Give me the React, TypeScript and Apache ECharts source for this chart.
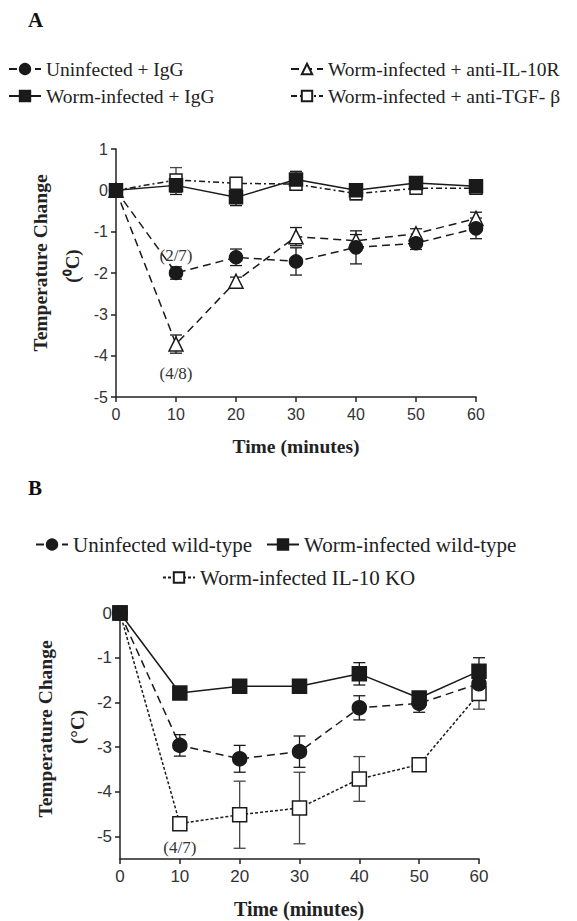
import React, { useEffect, useRef } from 'react';
import * as echarts from 'echarts';

// ---------- data ----------
const times = [0, 10, 20, 30, 40, 50, 60];
const yTicksB = [0, -1, -2, -3, -4, -5];

// Panel A
const nameA1 = 'Uninfected + IgG';
const nameA2 = 'Worm-infected + IgG';
const nameA3 = 'Worm-infected + anti-IL-10R';
const nameA4 = 'Worm-infected + anti-TGF- β';
const aUninfIgG = [0, -2.0, -1.62, -1.72, -1.38, -1.28, -0.92];
const aUninfIgGErr = [0, 0.15, 0.2, 0.33, 0.4, 0.15, 0.25];
const aWormIgG = [0, 0.12, -0.17, 0.26, 0.0, 0.18, 0.1];
const aWormIgGErr = [0, 0.22, 0.2, 0.2, 0.15, 0.08, 0.08];
const aAntiIL10R = [0, -3.72, -2.2, -1.12, -1.22, -1.05, -0.68];
const aAntiIL10RErr = [0, 0.22, 0.1, 0.22, 0.15, 0.12, 0.15];
const aAntiTGF = [0, 0.25, 0.17, 0.15, -0.08, 0.05, 0.05];
const aAntiTGFErr = [0, 0.3, 0.06, 0.15, 0.15, 0.12, 0.08];
const aUninfNotes = ['', '(2/7)', '', '', '', '', ''];
const aIL10RNotes = ['', '(4/8)', '', '', '', '', ''];

// Panel B
const nameB1 = 'Uninfected wild-type';
const nameB2 = 'Worm-infected wild-type';
const nameB3 = 'Worm-infected IL-10 KO';
const bUninfWT = [0, -2.96, -3.26, -3.1, -2.12, -2.02, -1.58];
const bUninfWTErr = [0, 0.24, 0.3, 0.35, 0.27, 0.2, 0.2];
const bWormWT = [0, -1.79, -1.64, -1.64, -1.36, -1.9, -1.3];
const bWormWTErr = [0, 0.05, 0.15, 0.05, 0.25, 0.1, 0.3];
const bIL10KO = [0, -4.71, -4.51, -4.36, -3.71, -3.39, -1.8];
const bIL10KOErr = [0, 0.12, 0.75, 0.8, 0.5, 0.05, 0.35];
const bIL10KONotes = ['', '(4/7)', '', '', '', '', ''];

const INK = '#1a1a1a';
const SERIF = '"Liberation Serif", "Times New Roman", serif';
const SANS = '"Liberation Sans", Arial, sans-serif';

function errSeries(vals: number[], errs: number[], gi: number, color: string) {
  const data: number[][] = [];
  times.forEach((t, i) => {
    if (errs[i] > 0) data.push([t, vals[i] - errs[i], vals[i] + errs[i]]);
  });
  return {
    type: 'custom',
    xAxisIndex: gi,
    yAxisIndex: gi,
    silent: true,
    z: 1,
    data,
    encode: { x: 0, y: [1, 2] },
    renderItem: (_p: any, api: any) => {
      const x = api.value(0);
      const a = api.coord([x, api.value(1)]);
      const b = api.coord([x, api.value(2)]);
      const w = 6;
      const st = { stroke: color, lineWidth: 1.3, fill: 'none' };
      return {
        type: 'group',
        children: [
          { type: 'line', shape: { x1: a[0], y1: a[1], x2: b[0], y2: b[1] }, style: st },
          { type: 'line', shape: { x1: a[0] - w, y1: a[1], x2: a[0] + w, y2: a[1] }, style: st },
          { type: 'line', shape: { x1: b[0] - w, y1: b[1], x2: b[0] + w, y2: b[1] }, style: st },
        ],
      };
    },
  };
}

function lineSeries(
  name: string,
  vals: number[],
  gi: number,
  symbol: string,
  filled: boolean,
  dash: any,
  size: number,
  notes?: string[],
  notePos?: string,
  noteDist?: number
) {
  return {
    type: 'line',
    name,
    xAxisIndex: gi,
    yAxisIndex: gi,
    z: 3,
    symbol,
    symbolSize: size,
    showSymbol: true,
    data: times.map((t, i) => {
      const item: any = { value: [t, vals[i]] };
      if (notes && notes[i]) {
        item.label = {
          show: true,
          formatter: notes[i],
          position: notePos,
          distance: noteDist,
          fontFamily: SERIF,
          fontSize: 17,
          color: '#333',
        };
      }
      return item;
    }),
    lineStyle: { color: INK, width: 1.5, type: dash },
    itemStyle: { color: filled ? INK : '#fff', borderColor: INK, borderWidth: 1.5 },
  };
}

function legendItem(name: string, left: number, top: number, fontSize: number) {
  return {
    data: [name],
    left,
    top,
    padding: 0,
    itemWidth: 32,
    itemHeight: 13,
    selectedMode: false,
    textStyle: { fontFamily: SERIF, fontSize, color: '#222' },
  };
}

const axisLineStyle = { color: '#222', width: 1.5 };

function xAxis(gi: number, fs: number) {
  return {
    type: 'value',
    gridIndex: gi,
    min: 0,
    max: 60,
    interval: 10,
    axisLine: { show: true, onZero: false, lineStyle: axisLineStyle },
    axisTick: { show: true, length: 5, lineStyle: axisLineStyle },
    axisLabel: { fontFamily: SANS, fontSize: fs, color: '#333', margin: 9 },
    splitLine: { show: false },
  };
}

function title(text: string, x: number, y: number, size: number, vertical: boolean) {
  return {
    type: 'text',
    x,
    y,
    rotation: vertical ? Math.PI / 2 : 0,
    style: {
      text,
      font: `bold ${size}px ${SERIF}`,
      fill: '#222',
      textAlign: 'center',
      textVerticalAlign: 'middle',
    },
  };
}

export default function App() {
  const ref = useRef<HTMLDivElement>(null);
  useEffect(() => {
    if (!ref.current) return;
    const chart = echarts.init(ref.current, null, { renderer: 'svg' });
    const option: any = {
      animation: false,
      backgroundColor: '#fff',
      grid: [
        { left: 116, right: 101, top: 149, bottom: 524, outerBoundsMode: 'none' },
        { left: 120, right: 98, top: 613, bottom: 62, outerBoundsMode: 'none' },
      ],
      xAxis: [xAxis(0, 16), xAxis(1, 17)],
      yAxis: [
        {
          type: 'value',
          gridIndex: 0,
          min: -5,
          max: 1,
          interval: 1,
          axisLine: { show: true, onZero: false, lineStyle: axisLineStyle },
          axisTick: { show: true, length: 5, lineStyle: axisLineStyle },
          axisLabel: { fontFamily: SANS, fontSize: 16, color: '#333', margin: 8 },
          splitLine: { show: false },
        },
        {
          type: 'value',
          gridIndex: 1,
          min: -5.5,
          max: 0,
          axisLine: { show: true, onZero: false, lineStyle: axisLineStyle },
          axisTick: { show: true, length: 5, lineStyle: axisLineStyle, customValues: yTicksB },
          axisLabel: { fontFamily: SANS, fontSize: 17, color: '#333', margin: 8, customValues: yTicksB },
          splitLine: { show: false },
        },
      ],
      legend: [
        legendItem(nameA1, 8, 59, 19.5),
        legendItem(nameA2, 8, 86, 19.5),
        legendItem(nameA3, 290, 59, 19.5),
        legendItem(nameA4, 290, 86, 19.5),
        legendItem(nameB1, 35, 534, 21),
        legendItem(nameB2, 266, 534, 21),
        legendItem(nameB3, 162, 567, 21),
      ],
      graphic: [
        { type: 'text', x: 28, y: 20, style: { text: 'A', font: `bold 21px ${SERIF}`, fill: '#111', textAlign: 'left', textVerticalAlign: 'middle' } },
        { type: 'text', x: 28, y: 488, style: { text: 'B', font: `bold 21px ${SERIF}`, fill: '#111', textAlign: 'left', textVerticalAlign: 'middle' } },
        title('Temperature Change', 40, 263, 19.5, true),
        title('(⁰C)', 72, 266, 19, true),
        title('Temperature Change', 45, 729, 19.5, true),
        title('(°C)', 77, 727, 19, true),
        title('Time (minutes)', 296, 446, 19.5, false),
        title('Time (minutes)', 299, 909, 20, false),
      ],
      series: [
        errSeries(aUninfIgG, aUninfIgGErr, 0, INK),
        errSeries(aWormIgG, aWormIgGErr, 0, INK),
        errSeries(aAntiIL10R, aAntiIL10RErr, 0, INK),
        errSeries(aAntiTGF, aAntiTGFErr, 0, '#444'),
        lineSeries(nameA4, aAntiTGF, 0, 'rect', false, [6, 3, 2, 3], 12),
        lineSeries(nameA3, aAntiIL10R, 0, 'triangle', false, [8, 5], 14, aIL10RNotes, 'bottom', 13),
        lineSeries(nameA1, aUninfIgG, 0, 'circle', true, [8, 5], 13, aUninfNotes, 'top', 2),
        lineSeries(nameA2, aWormIgG, 0, 'rect', true, 'solid', 13),
        errSeries(bUninfWT, bUninfWTErr, 1, INK),
        errSeries(bWormWT, bWormWTErr, 1, INK),
        errSeries(bIL10KO, bIL10KOErr, 1, '#444'),
        lineSeries(nameB3, bIL10KO, 1, 'rect', false, [3, 2], 14, bIL10KONotes, 'bottom', 8),
        lineSeries(nameB1, bUninfWT, 1, 'circle', true, [8, 5], 14),
        lineSeries(nameB2, bWormWT, 1, 'rect', true, 'solid', 14),
      ],
    };
    chart.setOption(option);
    return () => chart.dispose();
  }, []);
  return <div ref={ref} style={{ position: 'absolute', left: 0, top: 0, width: 577, height: 921 }} />;
}
